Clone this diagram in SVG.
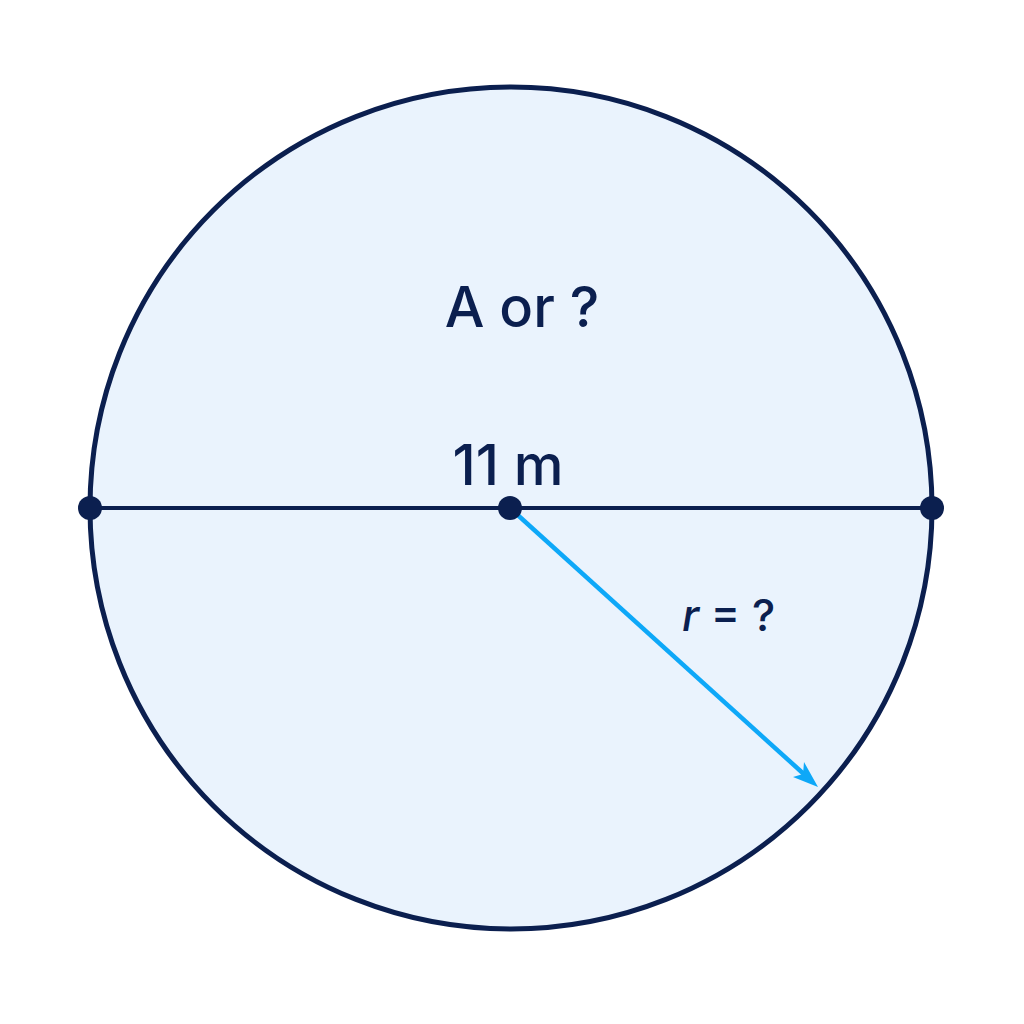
<svg xmlns="http://www.w3.org/2000/svg" width="1024" height="1024" viewBox="0 0 1024 1024">
<style>
.lbl{font-family:Inter,Roboto,"Liberation Sans",sans-serif;fill:#0B1F4F;font-weight:500;}
</style>
<rect width="1024" height="1024" fill="#FFFFFF"/>
<g id="circle">
<circle cx="511" cy="508" r="421" fill="#EAF3FD" stroke="#0B1F4F" stroke-width="5"/>
</g>
<g id="connectors">
<line x1="90" y1="508" x2="932" y2="508" stroke="#0B1F4F" stroke-width="4"/>
<line x1="510" y1="508" x2="806" y2="776" stroke="#0EA8F8" stroke-width="4.5"/>
<polygon points="818,787 793,777 803,774 804,762" fill="#0EA8F8"/>
</g>
<g id="points">
<circle cx="90" cy="508" r="12" fill="#0B1F4F"/>
<circle cx="932" cy="508" r="12" fill="#0B1F4F"/>
<circle cx="510" cy="508" r="12" fill="#0B1F4F"/>
</g>
<g id="labels">
<text class="lbl" x="522" y="327" font-size="56" text-anchor="middle">A or ?</text>
<text class="lbl" x="508" y="485" font-size="56" text-anchor="middle">11 m</text>
<text class="lbl" x="682" y="631" font-size="44"><tspan font-style="italic">r</tspan> = ?</text>
</g>
</svg>
